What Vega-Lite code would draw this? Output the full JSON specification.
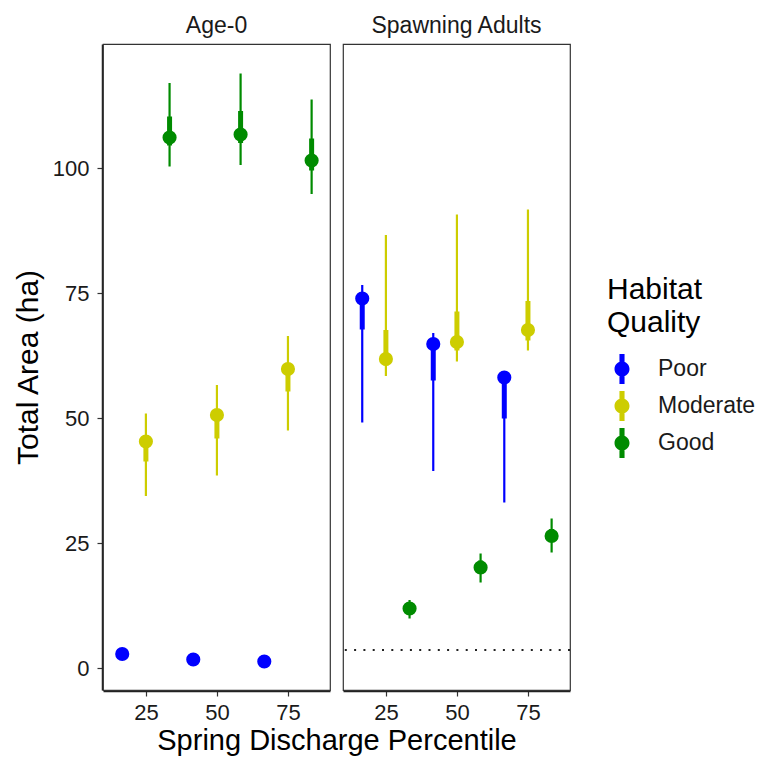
{
  "$schema": "https://vega.github.io/schema/vega-lite/v6.json",
  "background": "white",
  "padding": {"left": 13, "top": 15, "right": 5, "bottom": 0},
  "data": {"values": [
    {"stage": "Age-0", "quality": "Poor", "pct": 16.67, "area": 2.8, "lo95": 2.2, "hi95": 3.4, "lo50": 2.6, "hi50": 3.0},
    {"stage": "Age-0", "quality": "Poor", "pct": 41.67, "area": 1.7, "lo95": 1.2, "hi95": 2.2, "lo50": 1.5, "hi50": 1.9},
    {"stage": "Age-0", "quality": "Poor", "pct": 66.67, "area": 1.3, "lo95": 0.8, "hi95": 1.8, "lo50": 1.1, "hi50": 1.5},
    {"stage": "Age-0", "quality": "Moderate", "pct": 25, "area": 45.3, "lo95": 34.4, "hi95": 50.9, "lo50": 41.3, "hi50": 46.5},
    {"stage": "Age-0", "quality": "Moderate", "pct": 50, "area": 50.6, "lo95": 38.5, "hi95": 56.6, "lo50": 45.9, "hi50": 51.5},
    {"stage": "Age-0", "quality": "Moderate", "pct": 75, "area": 59.8, "lo95": 47.5, "hi95": 66.4, "lo50": 55.3, "hi50": 61.0},
    {"stage": "Age-0", "quality": "Good", "pct": 33.33, "area": 106.1, "lo95": 100.3, "hi95": 117.0, "lo50": 104.5, "hi50": 110.3},
    {"stage": "Age-0", "quality": "Good", "pct": 58.33, "area": 106.7, "lo95": 100.6, "hi95": 118.9, "lo50": 105.0, "hi50": 111.4},
    {"stage": "Age-0", "quality": "Good", "pct": 83.33, "area": 101.5, "lo95": 94.8, "hi95": 113.7, "lo50": 99.5, "hi50": 105.9},
    {"stage": "Spawning Adults", "quality": "Poor", "pct": 16.67, "area": 73.9, "lo95": 49.1, "hi95": 76.6, "lo50": 67.7, "hi50": 74.5},
    {"stage": "Spawning Adults", "quality": "Poor", "pct": 41.67, "area": 64.8, "lo95": 39.4, "hi95": 67.0, "lo50": 57.5, "hi50": 65.5},
    {"stage": "Spawning Adults", "quality": "Poor", "pct": 66.67, "area": 58.1, "lo95": 33.1, "hi95": 58.6, "lo50": 49.9, "hi50": 58.4},
    {"stage": "Spawning Adults", "quality": "Moderate", "pct": 25, "area": 61.8, "lo95": 58.4, "hi95": 86.6, "lo50": 60.5, "hi50": 67.6},
    {"stage": "Spawning Adults", "quality": "Moderate", "pct": 50, "area": 65.2, "lo95": 61.3, "hi95": 90.7, "lo50": 63.5, "hi50": 71.3},
    {"stage": "Spawning Adults", "quality": "Moderate", "pct": 75, "area": 67.6, "lo95": 63.5, "hi95": 91.7, "lo50": 65.5, "hi50": 73.4},
    {"stage": "Spawning Adults", "quality": "Good", "pct": 33.33, "area": 11.9, "lo95": 9.9, "hi95": 13.6, "lo50": 11.0, "hi50": 12.8},
    {"stage": "Spawning Adults", "quality": "Good", "pct": 58.33, "area": 20.1, "lo95": 17.1, "hi95": 22.9, "lo50": 19.0, "hi50": 21.5},
    {"stage": "Spawning Adults", "quality": "Good", "pct": 83.33, "area": 26.4, "lo95": 23.1, "hi95": 29.9, "lo50": 25.3, "hi50": 27.8},
    {"stage": "Spawning Adults", "threshold": 3.6}
  ]},
  "facet": {
    "column": {
      "field": "stage", "type": "nominal", "sort": ["Age-0", "Spawning Adults"],
      "title": "Spring Discharge Percentile",
      "header": {
        "labelFontSize": 23, "labelFont": "Liberation Sans", "labelColor": "#1a1a1a", "labelPadding": 5,
        "titleOrient": "bottom", "titleFontSize": 29, "titleFontWeight": "normal", "titleColor": "black",
        "titleFont": "Liberation Sans", "titlePadding": -6, "titleBaseline": "top"
      }
    }
  },
  "spacing": 9,
  "spec": {
    "width": 227,
    "height": 646,
    "layer": [
      {
        "transform": [{"filter": "isValid(datum.area)"}],
        "mark": {"type": "rule", "strokeWidth": 2.2},
        "encoding": {
          "x": {"field": "pct", "type": "quantitative", "title": null,
            "scale": {"domain": [9.9, 89.8], "nice": false, "zero": false},
            "axis": {"values": [25, 50, 75], "grid": false, "labelPadding": 6}},
          "y": {"field": "lo95", "type": "quantitative", "title": "Total Area (ha)",
            "scale": {"domain": [-4.4, 124.8], "nice": false, "zero": false},
            "axis": {"values": [0, 25, 50, 75, 100], "grid": false, "labelPadding": 8, "titlePadding": 9}},
          "y2": {"field": "hi95"},
          "color": {"field": "quality", "type": "nominal",
            "scale": {"domain": ["Poor", "Moderate", "Good"], "range": ["#0000FF", "#CDCD00", "#008B00"]},
            "legend": {
              "title": ["Habitat", "Quality"],
              "orient": "none", "legendX": 504, "legendY": 231,
              "symbolType": "M-0.5,0A0.5,0.5,0,1,1,0.5,0A0.5,0.5,0,1,1,-0.5,0ZM-0.17,-1H0.17V1H-0.17Z",
              "symbolSize": 900, "symbolStrokeWidth": 0, "symbolOpacity": 1
            }}
        }
      },
      {
        "transform": [{"filter": "isValid(datum.area)"}],
        "mark": {"type": "rule", "strokeWidth": 5},
        "encoding": {
          "x": {"field": "pct", "type": "quantitative"},
          "y": {"field": "lo50", "type": "quantitative"},
          "y2": {"field": "hi50"},
          "color": {"field": "quality", "type": "nominal"}
        }
      },
      {
        "transform": [{"filter": "isValid(datum.area)"}],
        "mark": {"type": "point", "shape": "circle", "filled": true, "opacity": 1, "size": 200},
        "encoding": {
          "x": {"field": "pct", "type": "quantitative"},
          "y": {"field": "area", "type": "quantitative"},
          "color": {"field": "quality", "type": "nominal"}
        }
      },
      {
        "transform": [{"filter": "isValid(datum.threshold)"}],
        "mark": {"type": "rule", "color": "#222222", "strokeWidth": 2.2, "strokeDash": [2, 7.3]},
        "encoding": {
          "y": {"field": "threshold", "type": "quantitative"}
        }
      }
    ]
  },
  "config": {
    "font": "Liberation Sans",
    "view": {"stroke": "#333333", "strokeWidth": 1.2},
    "axis": {
      "domainColor": "#222222", "domainWidth": 1.5, "tickColor": "#333333", "tickWidth": 1.2, "tickSize": 5,
      "labelFontSize": 22, "labelColor": "#1a1a1a", "labelFont": "Liberation Sans", "labelPadding": 5,
      "titleFontSize": 30, "titleFontWeight": "normal", "titleColor": "black", "titleFont": "Liberation Sans",
      "titlePadding": 12
    },
    "legend": {
      "titleFontSize": 30, "titleFontWeight": "normal", "titleColor": "black", "titleFont": "Liberation Sans",
      "titleLineHeight": 33, "titlePadding": 16,
      "labelFontSize": 23, "labelColor": "#1a1a1a", "labelFont": "Liberation Sans", "labelOffset": 21,
      "rowPadding": 7
    }
  }
}
